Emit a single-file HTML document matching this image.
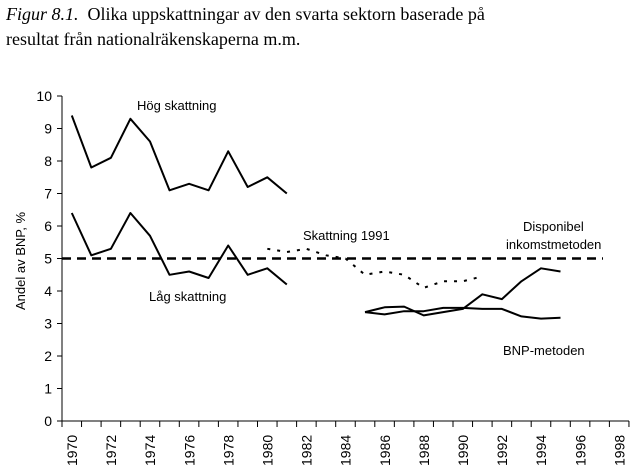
<!DOCTYPE html><html><head><style>body{margin:0;background:#fff;width:640px;height:470px;overflow:hidden}
.t{position:absolute;left:6px;font-family:"Liberation Serif",serif;font-size:18px;color:#000}
</style></head><body>
<div class="t" style="top:4px"><i>Figur 8.1.</i>&nbsp; Olika uppskattningar av den svarta sektorn baserade på</div>
<div class="t" style="top:29px">resultat från nationalräkenskaperna m.m.</div>
<svg width="640" height="470" style="position:absolute;left:0;top:0" font-family="Liberation Sans, sans-serif" font-size="13">
<g stroke="#000" stroke-width="1" fill="none">
<path d="M62 96V421H629"/>
<path d="M57 421H62M57 388.5H62M57 356H62M57 323.5H62M57 291H62M57 258.5H62M57 226H62M57 193.5H62M57 161H62M57 128.5H62M57 96H62"/>
<path d="M62 421v6M81.55 421v6M101.1 421v6M120.65 421v6M140.2 421v6M159.75 421v6M179.3 421v6M198.85 421v6M218.4 421v6M237.95 421v6M257.5 421v6M277.05 421v6M296.6 421v6M316.15 421v6M335.7 421v6M355.25 421v6M374.8 421v6M394.35 421v6M413.9 421v6M433.45 421v6M453 421v6M472.55 421v6M492.1 421v6M511.65 421v6M531.2 421v6M550.75 421v6M570.3 421v6M589.85 421v6M609.4 421v6M628.95 421v6"/>
</g>
<g text-anchor="end" font-size="14">
<text x="52" y="426">0</text><text x="52" y="393.5">1</text><text x="52" y="361">2</text><text x="52" y="328.5">3</text><text x="52" y="296">4</text><text x="52" y="263.5">5</text><text x="52" y="231">6</text><text x="52" y="198.5">7</text><text x="52" y="166">8</text><text x="52" y="133.5">9</text><text x="52" y="101">10</text>
</g>
<g font-size="14">
<text transform="translate(77,466) rotate(-90)">1970</text>
<text transform="translate(116.1,466) rotate(-90)">1972</text>
<text transform="translate(155.2,466) rotate(-90)">1974</text>
<text transform="translate(194.3,466) rotate(-90)">1976</text>
<text transform="translate(233.4,466) rotate(-90)">1978</text>
<text transform="translate(272.5,466) rotate(-90)">1980</text>
<text transform="translate(311.6,466) rotate(-90)">1982</text>
<text transform="translate(350.7,466) rotate(-90)">1984</text>
<text transform="translate(389.8,466) rotate(-90)">1986</text>
<text transform="translate(428.9,466) rotate(-90)">1988</text>
<text transform="translate(468,466) rotate(-90)">1990</text>
<text transform="translate(507.1,466) rotate(-90)">1992</text>
<text transform="translate(546.2,466) rotate(-90)">1994</text>
<text transform="translate(585.3,466) rotate(-90)">1996</text>
<text transform="translate(624.4,466) rotate(-90)">1998</text>
</g>
<g fill="none" stroke="#000" stroke-width="2" stroke-linejoin="round">
<polyline points="71.8,115.5 91.3,167.5 110.9,157.8 130.4,118.8 150,141.5 169.5,190.3 189.1,183.8 208.6,190.3 228.2,151.3 247.7,187 267.3,177.3 286.8,193.5"/>
<polyline points="71.8,213 91.3,255.3 110.9,248.8 130.4,213 150,235.8 169.5,274.8 189.1,271.5 208.6,278 228.2,245.5 247.7,274.8 267.3,268.3 286.8,284.5"/>
<polyline stroke-dasharray="3,7" points="267.3,248.8 286.8,252 306.4,248.8 325.9,255.3 345.5,258.5 365,274.8 384.6,271.5 404.1,274.8 423.7,287.8 443.2,281.3 462.8,281.3 482.3,276.4"/>
<polyline points="365,312.1 384.6,307.3 404.1,306.6 423.7,315.4 443.2,312.1 462.8,308.9 482.3,294.3 501.9,299.1 521.4,281.3 541,268.3 560.5,271.5"/>
<polyline points="365,312.1 384.6,314.4 404.1,311.2 423.7,311.2 443.2,307.9 462.8,307.9 482.3,308.9 501.9,308.9 521.4,316.4 541,318.6 560.5,317.7"/>
<line x1="62" x2="603" y1="258.5" y2="258.5" stroke-width="2.5" stroke-dasharray="9,6"/>
</g>
<text x="137" y="110">Hög skattning</text>
<text x="149" y="301">Låg skattning</text>
<text x="303" y="240">Skattning 1991</text>
<text x="523" y="231">Disponibel</text>
<text x="506" y="249">inkomstmetoden</text>
<text x="503" y="355">BNP-metoden</text>
<text transform="translate(25,310) rotate(-90)">Andel av BNP, %</text>
</svg></body></html>
